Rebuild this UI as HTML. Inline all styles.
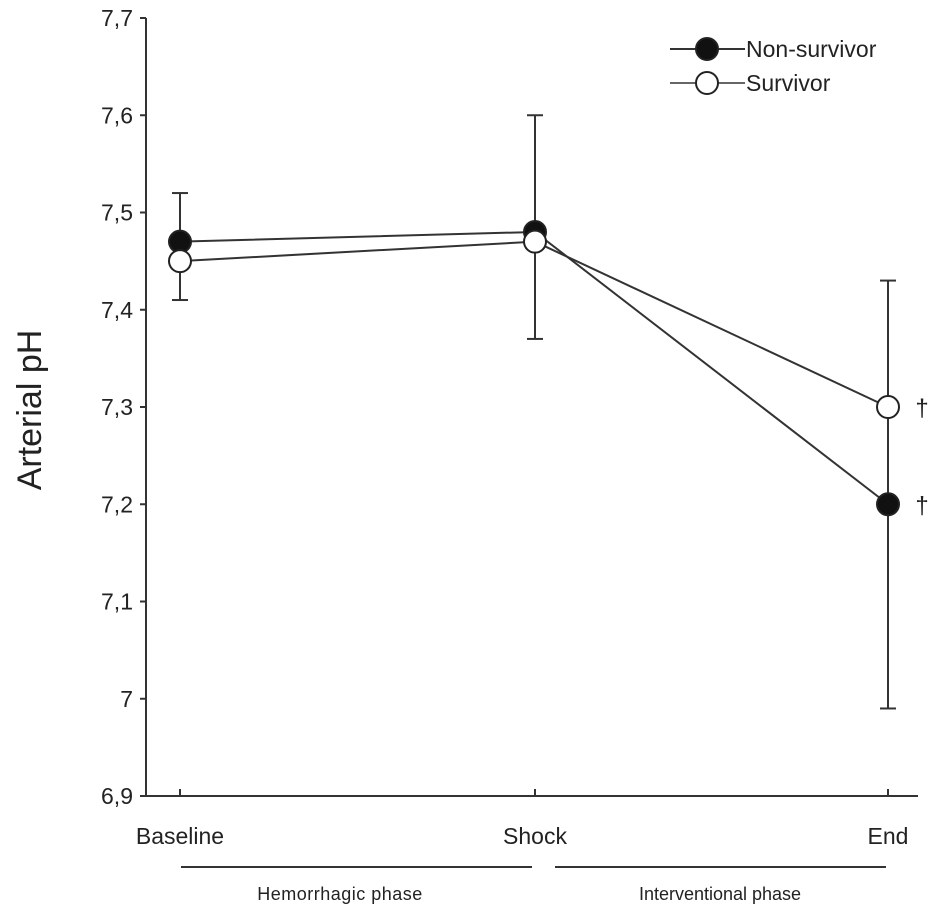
<!DOCTYPE html>
<html><head><meta charset="utf-8"><style>
body{margin:0;background:#fff}
svg text{font-family:"Liberation Sans",Arial,sans-serif;fill:#222}
</style></head><body>
<svg width="933" height="913">
<g id="axes"></g><g id="marks"></g>
</svg>
<script>
const categories=["Baseline","Shock","End"];
const nonSurvivor=[7.47,7.48,7.20];
const survivor=[7.45,7.47,7.30];
const upperErr=[7.52,7.60,7.43];
const lowerErr=[7.41,7.37,6.99];
const yTicks=["6,9","7","7,1","7,2","7,3","7,4","7,5","7,6","7,7"];
const yTickVals=[6.9,7.0,7.1,7.2,7.3,7.4,7.5,7.6,7.7];
const xPos=i=>[180,535,888][i];
const y=v=>796-(v-6.9)/0.8*778;
const NS="http://www.w3.org/2000/svg";
const ax=document.getElementById('axes'),mk=document.getElementById('marks');
function el(p,t,a,txt){const e=document.createElementNS(NS,t);for(const k in a)e.setAttribute(k,a[k]);if(txt!=null)e.textContent=txt;p.appendChild(e);return e;}
let e;
e=el(ax,'line',{x1:146,y1:18,x2:146,y2:796,stroke:'#333','stroke-width':2});


e=el(ax,'line',{x1:145,y1:796,x2:918,y2:796,stroke:'#333','stroke-width':2});


yTickVals.forEach((v,i)=>{
 el(ax,'line',{x1:140,y1:y(v),x2:146,y2:y(v),stroke:'#333','stroke-width':2});
 e=el(ax,'text',{x:133,y:y(v)+8,'font-size':23,'text-anchor':'end'},yTicks[i]);
 
 
});
categories.forEach((c,i)=>{
 el(ax,'line',{x1:xPos(i),y1:789,x2:xPos(i),y2:796,stroke:'#333','stroke-width':2});
 e=el(ax,'text',{x:xPos(i),y:844,'font-size':23,'text-anchor':'middle'},c);
 
 
});
e=el(ax,'text',{x:0,y:0,'font-size':34,'text-anchor':'middle',transform:'translate(41,410) rotate(-90)'},'Arterial pH');


el(ax,'line',{x1:181,y1:867,x2:532,y2:867,stroke:'#333','stroke-width':2});
el(ax,'line',{x1:555,y1:867,x2:886,y2:867,stroke:'#333','stroke-width':2});
e=el(ax,'text',{x:340,y:900,'font-size':18,'text-anchor':'middle','letter-spacing':'0.5'},'Hemorrhagic phase');


e=el(ax,'text',{x:720,y:900,'font-size':18,'text-anchor':'middle'},'Interventional phase');


categories.forEach((c,i)=>{
 const x=xPos(i);
 e=el(mk,'line',{x1:x,y1:y(upperErr[i]),x2:x,y2:y(lowerErr[i]),stroke:'#333','stroke-width':2});
 
 
 el(mk,'line',{x1:x-8,y1:y(upperErr[i]),x2:x+8,y2:y(upperErr[i]),stroke:'#333','stroke-width':2});
 el(mk,'line',{x1:x-8,y1:y(lowerErr[i]),x2:x+8,y2:y(lowerErr[i]),stroke:'#333','stroke-width':2});
});
function series(vals,fill,name){
 const pts=vals.map((v,i)=>xPos(i)+','+y(v)).join(' ');
 e=el(mk,'polyline',{points:pts,fill:'none',stroke:'#333','stroke-width':2});
 
 
 vals.forEach((v,i)=>{
  e=el(mk,'circle',{cx:xPos(i),cy:y(v),r:11,fill:fill,stroke:'#222','stroke-width':2});
  
  
 });
}
series(nonSurvivor,'#111','non-survivor');
series(survivor,'#fff','survivor');
e=el(mk,'text',{x:922,y:y(survivor[2])+9,'font-size':24,'text-anchor':'middle'},'†');


e=el(mk,'text',{x:922,y:y(nonSurvivor[2])+9,'font-size':24,'text-anchor':'middle'},'†');


el(mk,'line',{x1:670,y1:49,x2:745,y2:49,stroke:'#333','stroke-width':2});
e=el(mk,'circle',{cx:707,cy:49,r:11,fill:'#111',stroke:'#222','stroke-width':2});


e=el(mk,'text',{x:746,y:57,'font-size':23},'Non-survivor');


el(mk,'line',{x1:670,y1:83,x2:745,y2:83,stroke:'#666','stroke-width':2});
e=el(mk,'circle',{cx:707,cy:83,r:11,fill:'#fff',stroke:'#222','stroke-width':2});


e=el(mk,'text',{x:746,y:91,'font-size':23},'Survivor');


</script>
</body></html>
